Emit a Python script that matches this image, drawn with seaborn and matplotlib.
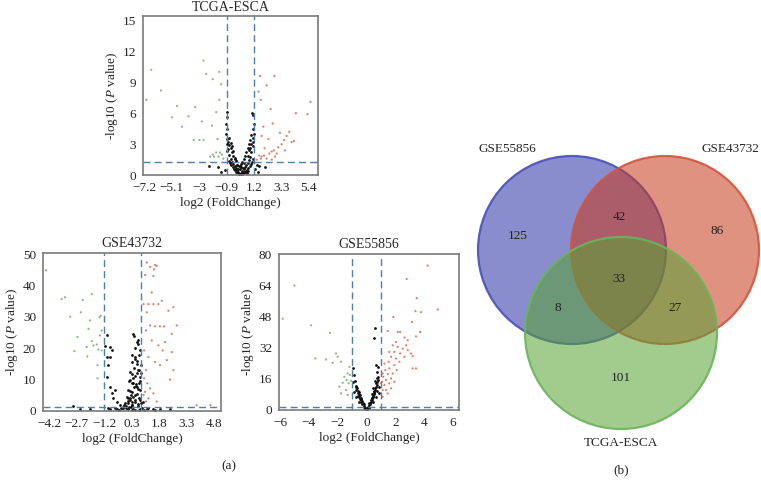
import matplotlib
matplotlib.use("Agg")
import matplotlib.pyplot as plt
import seaborn as sns
import pandas as pd
from matplotlib.patches import Circle

# ------------------------------
# Volcano points (x = log2 FC, y = -log10 P)
# ------------------------------
# TCGA-ESCA
tcga_ns_x = [0.1, 0.2, 0.0, 0.3, -0.1, 0.4, -0.2, 0.5, -0.3, 0.6, -0.4, 0.7, -0.5, 0.8, -0.6, 0.9,
             -0.7, 1.0, -0.8, 1.1, 0.15, 0.05, 0.25, 0.35, -0.05, 0.45, -0.15, 0.55, -0.25, 0.65,
             -0.35, 0.75, -0.45, 0.85, -0.55, 0.95, -0.65, 1.05, -0.75, 1.15, -0.9, -0.85, -0.95,
             -0.88, -0.92, -0.87, -0.9, -0.8, -0.7, -0.6, -0.85, -0.5, 1.1, 1.15, 1.2, 1.1, 1.18,
             1.12, 1.05, 1.0, 0.9, 0.8, 0.7, -1.0, -1.3, 1.3, 1.5, 1.6, 2.0, -1.6, 1.4, -2.29,
             0.12, 0.22, 0.02, 0.32, -0.08, 0.42, -0.18, 0.52, 0.62, -0.28, 0.72, -0.38,
             0.0, 0.1, 0.2, 0.3, -0.1, 0.4, -0.2, 0.5, -0.3, 0.6, 0.7, -0.4, 0.8, -0.5, 0.9,
             -0.6, 1.0, -0.7]
tcga_ns_y = [0.1, 0.2, 0.3, 0.4, 0.5, 0.6, 0.7, 0.8, 0.9, 1.0, 1.1, 1.2, 1.3, 1.5, 1.6, 1.8,
             2.0, 2.2, 2.5, 2.8, 0.05, 0.15, 0.1, 0.25, 0.2, 0.3, 0.35, 0.45, 0.5, 0.55,
             0.6, 0.7, 0.8, 0.9, 0.95, 1.1, 1.2, 1.3, 1.4, 1.6, 3.0, 3.5, 4.0,
             4.5, 5.0, 5.6, 6.1, 3.2, 2.9, 2.6, 2.3, 2.2, 3.2, 3.6, 4.0, 4.5, 5.0,
             5.8, 6.0, 3.0, 2.6, 2.4, 1.9, 0.5, 0.3, 0.6, 0.3, 0.9, 0.8, 0.8, 1.0, 0.9,
             0.6, 0.8, 0.9, 0.7, 1.0, 1.2, 1.4, 0.3, 0.2, 1.6, 0.4, 1.9,
             0.6, 0.9, 1.1, 1.3, 1.0, 1.6, 1.4, 1.9, 1.7, 2.2, 2.6, 2.3, 3.0, 2.8, 3.4,
             3.1, 3.9, 3.6]
tcga_dn_x = [-6.67, -7.05, -5.93, -4.7, -5.09, -3.82, -4.32, -3.31, -2.67, -2.47, -1.96, -1.47,
             -1.32, -1.47, -1.7, -2.03, -2.8, -2.98, -2.67, -3.43, -1.6, -2.16, -1.96, -1.7,
             -1.4, -1.86, -1.53, -1.27, -1.15]
tcga_dn_y = [10.2, 7.3, 8.2, 6.7, 5.6, 5.7, 4.7, 6.6, 11.1, 9.8, 9.3, 10.0,
             8.8, 7.3, 6.1, 4.8, 5.2, 3.4, 3.4, 3.4, 3.5, 1.8, 2.0, 2.2,
             2.2, 1.8, 1.8, 2.0, 1.6]
tcga_up_x = [1.58, 1.78, 1.96, 2.16, 2.37, 2.55, 2.72, 2.93, 3.05, 3.31, 3.49, 3.69, 3.89, 4.07,
             4.25, 4.4, 5.29, 5.52, 1.78, 1.91, 2.29, 2.47, 1.71, 2.16, 2.75, 1.66, 1.53, 2.62,
             3.18, 3.56, 1.71, 2.55, 1.4, 2.0, 2.8]
tcga_up_y = [1.9, 1.8, 1.9, 1.6, 2.1, 2.3, 2.4, 2.1, 2.7, 3.0, 3.4, 3.8, 4.2, 3.2,
             3.3, 6.0, 5.9, 7.1, 3.8, 4.7, 3.5, 6.4, 7.3, 8.7, 9.6, 9.6, 8.1, 5.0,
             4.1, 2.4, 1.6, 1.5, 1.5, 2.6, 1.8]

# GSE43732
g437_ns_x = [-1.05, -1.15, -0.87, -0.78, -1.05, -0.87, -0.96, -1.05, -0.87, -0.6, -0.78, -0.69,
             -0.51, -0.33, -0.15, 0.58, 0.49, 0.67, 0.76, 0.4, 0.49, 0.58, 0.67, 0.76, 0.31, 0.22,
             0.4, 0.58, 0.76, 0.13, 0.04, 0.22, 0.49, 0.76, -0.05, 0.31, 0.67, -0.15, 0.13, 0.4,
             0.76, 1.13, 1.49, 1.85, -0.51, -0.87, -1.96, -2.51, -2.87, 0.3, 0.5, 0.7, 0.2, 0.45,
             0.6, 0.35, 0.55, 0.1, 0.0, 0.25, 0.65, 0.8, 0.15, 0.5, 0.3, 0.7, -0.3, -0.6, 1.0, 2.4,
             0.0, 0.1, 0.2, 0.3, 0.4, 0.5, 0.6, 0.7, 0.8, 0.05, 0.15, 0.25, 0.35, 0.45, 0.55,
             0.65, 0.75, 0.85, 0.1, 0.3, 0.5, 0.7, 0.2, 0.4, 0.6, 0.8, 0.3, 0.5, 0.7, 0.45,
             0.65, -0.2, -0.1, 0.9, 1.2, 1.6, -1.0, -0.4]
g437_ns_y = [24.1, 20.6, 20.4, 19.3, 17.2, 17.2, 14.6, 10.9, 7.7, 6.7, 5.6, 4.0,
             3.0, 1.9, 1.4, 22.0, 20.2, 21.5, 19.3, 24.6, 17.2, 15.1, 13.0, 10.9, 11.9, 9.8,
             8.8, 7.7, 6.7, 6.7, 4.5, 4.0, 3.5, 3.5, 2.4, 1.9, 1.6, 0.8, 0.5, 0.5,
             0.5, 0.5, 0.5, 0.5, 0.5, 0.5, 0.5, 0.7, 1.6, 2.8, 5.0, 9.0, 12.5, 13.8,
             16.0, 18.0, 8.0, 3.2, 1.0, 1.2, 2.2, 12.0, 9.5, 0.3, 0.2, 0.3, 0.8, 1.0, 0.4, 0.6,
             1.5, 2.5, 3.5, 2.0, 4.5, 3.0, 5.5, 4.0, 2.5, 0.8, 1.2, 5.0, 6.0, 7.5, 8.5,
             7.0, 9.5, 1.0, 4.0, 9.0, 11.0, 13.0, 6.5, 10.5, 12.0, 14.5, 15.5, 16.5, 18.0, 24.0,
             22.5, 0.9, 2.0, 3.0, 1.0, 0.2, 1.0, 0.4]
g437_dn_x = [-4.36, -3.51, -3.33, -3.05, -2.36, -1.87, -2.47, -1.96, -2.05, -1.45, -1.38, -2.65,
             -2.82, -2.15, -1.87, -1.78, -1.6, -1.51, -1.42, -2.11, -1.56, -1.56, -1.33, -1.33]
g437_dn_y = [44.9, 35.7, 36.3, 30.1, 35.4, 37.3, 31.5, 28.9, 26.2, 29.9, 30.4, 23.6,
             19.1, 20.4, 22.3, 20.9, 21.2, 19.6, 24.1, 17.4, 14.6, 10.4, 19.3, 25.7]
g437_up_x = [1.13, 1.31, 1.58, 1.67, 1.53, 1.49, 1.04, 1.4, 0.95, 1.22, 1.49, 1.76, 1.95, 2.58,
             2.31, 2.76, 2.49, 1.13, 1.31, 1.58, 1.85, 2.07, 1.09, 1.4, 1.76, 2.0, 0.98, 1.22,
             1.58, 1.85, 2.22, 2.58, 2.4, 1.09, 0.98, 1.16, 1.31, 1.04, 1.49, 1.22, 1.67, 1.09,
             0.95, 2.13, 2.49, 3.85, 4.6]
g437_up_y = [47.4, 46.0, 46.6, 46.3, 45.2, 43.1, 43.4, 37.8, 34.1, 34.1, 34.1, 34.1, 35.2, 33.1,
             32.0, 27.3, 24.6, 31.5, 27.3, 27.0, 27.0, 27.0, 25.7, 22.5, 20.9, 19.3, 19.3, 17.2,
             15.6, 14.6, 16.2, 13.0, 10.0, 13.0, 10.4, 8.8, 7.2, 6.1, 5.6, 4.0, 3.0, 3.0,
             5.1, 22.0, 18.8, 1.8, 1.8]

# GSE55856
g558_ns_x = [-0.91, -0.84, -0.96, -0.73, -0.84, -0.61, -0.5, -0.38, -0.27, -0.15, -0.08, 0.01,
             0.1, 0.2, 0.31, 0.43, 0.5, 0.61, 0.66, 0.71, 0.75, 0.66, 0.77, 0.54, 0.59, -0.73,
             -0.5, 0.43, 0.66, 0.89, 0.89, -0.2, 0.25, -0.4, 0.35, 0.55, -0.6, 0.0, 0.05, -0.05,
             0.15, -0.1, 0.38, -0.3, 0.6, 0.8, -0.7, 0.7, 0.48, -0.45,
             -0.2, -0.3, -0.4, -0.5, -0.6, -0.7, -0.8, 0.2, 0.3, 0.4, 0.5, 0.6, 0.7, 0.8, -0.1,
             0.1, 0.0, -0.55, -0.65, 0.45, 0.55, 0.65, 0.75, -0.35, 0.35, -0.45, 0.25]
g558_ns_y = [21.4, 17.9, 14.5, 12.0, 9.4, 8.5, 6.8, 5.1, 3.4, 1.7, 0.3, 0.9,
             1.7, 3.4, 5.1, 6.8, 8.9, 11.1, 13.7, 16.2, 19.7, 23.1, 22.2, 37.3, 42.4, 6.8,
             4.3, 4.3, 6.8, 8.5, 12.0, 2.2, 2.8, 4.0, 6.0, 9.5, 7.2, 0.5, 0.2, 0.6,
             1.2, 1.0, 8.0, 2.8, 15.0, 17.0, 10.5, 9.8, 11.5, 5.5,
             2.8, 4.5, 6.0, 8.0, 10.0, 12.5, 15.0, 2.5, 4.0, 6.0, 8.0, 10.5, 13.0, 15.5, 1.0,
             1.0, 0.5, 9.0, 11.5, 7.0, 9.0, 12.0, 14.5, 5.5, 5.0, 7.5, 3.5]
g558_dn_x = [-5.82, -5.0, -3.85, -2.53, -3.55, -2.81, -2.12, -2.0, -2.35, -1.77, -1.19, -1.31,
             -1.54, -1.38, -1.65, -1.24, -1.88, -1.42, -1.15, -1.08, -1.77, -1.31]
g558_dn_y = [47.0, 64.1, 43.6, 39.7, 26.5, 26.0, 29.1, 27.4, 24.3, 24.8, 22.2, 18.8,
             17.1, 15.4, 14.0, 13.7, 12.0, 10.3, 18.0, 15.0, 8.5, 7.7]
g558_up_x = [1.12, 1.24, 1.08, 1.35, 1.58, 1.16, 1.47, 1.7, 1.31, 1.58, 1.82, 1.24, 1.54, 1.93,
             2.09, 1.7, 2.05, 2.28, 1.93, 2.33, 2.63, 1.58, 2.16, 2.51, 2.74, 2.86, 3.09, 1.82,
             2.05, 1.47, 2.16, 2.33, 2.63, 2.86, 3.2, 3.43, 1.12, 1.47, 1.7, 1.93, 1.35, 1.0,
             1.12, 4.24, 2.79, 3.48, 3.39, 3.78, 4.94, 3.16, 1.86, 3.73, 3.43, 3.2]
g558_up_y = [10.3, 12.8, 14.5, 15.4, 13.7, 17.1, 18.5, 16.2, 20.5, 21.4, 18.8, 23.9, 24.8, 23.1,
             20.5, 27.4, 26.5, 24.8, 29.9, 29.1, 27.4, 29.9, 32.5, 31.6, 33.3, 30.8, 29.1, 33.3,
             35.0, 40.7, 40.2, 40.2, 37.3, 35.9, 21.4, 21.4, 6.8, 8.5, 11.1, 14.5, 10.3, 13.7,
             18.8, 74.4, 67.5, 57.6, 50.9, 50.4, 51.8, 45.3, 47.9, 40.2, 37.9, 27.7]

# ------------------------------
# Venn counts
# ------------------------------
venn_sets = ["GSE55856", "GSE43732", "TCGA-ESCA"]
venn_counts = {"100": 125, "010": 86, "001": 101, "110": 42, "101": 8, "011": 27, "111": 33}

# ------------------------------
# Style
# ------------------------------
sns.set_style("white")
plt.rcParams["font.family"] = ["Liberation Serif", "DejaVu Serif"]
plt.rcParams["mathtext.fontset"] = "custom"
plt.rcParams["mathtext.rm"] = "Liberation Serif"
plt.rcParams["mathtext.it"] = "Liberation Serif:italic"

DASH = "#4f7fae"
FS = 9.5


def volcano(ax, title, ns_x, ns_y, dn_x, dn_y, up_x, up_y,
            xlim, ylim, xticks, xlabels, yticks, vlines):
    df = pd.DataFrame({
        "x": ns_x + dn_x + up_x,
        "y": ns_y + dn_y + up_y,
        "grp": ["ns"] * len(ns_x) + ["down"] * len(dn_x) + ["up"] * len(up_x),
    })
    sns.scatterplot(data=df[df.grp != "ns"], x="x", y="y", hue="grp",
                    palette={"down": "#79a86c", "up": "#d8684a"},
                    s=2.5, linewidth=0, alpha=0.85, legend=False, ax=ax)
    sns.scatterplot(data=df[df.grp == "ns"], x="x", y="y", color="#111111",
                    s=4, linewidth=0, legend=False, ax=ax)
    ax.axhline(1.3, ls=(0, (5, 3)), color=DASH, lw=1)
    for v in vlines:
        ax.axvline(v, ls=(0, (5, 3)), color=DASH, lw=1)
    ax.set_xlim(*xlim)
    ax.set_ylim(*ylim)
    ax.set_xticks(xticks)
    ax.set_xticklabels(xlabels)
    ax.set_yticks(yticks)
    ax.set_title(title, fontsize=FS + 0.5, pad=4)
    ax.set_xlabel("log2 (FoldChange)", fontsize=FS, labelpad=2)
    ax.set_ylabel("-log10 ($\\it{P}$ value)", fontsize=FS, labelpad=2)
    ax.tick_params(labelsize=FS, length=3, width=0.8, color="#666666", pad=2)
    for sp in ax.spines.values():
        sp.set_color("#7a7a7a")
        sp.set_linewidth(1.2)


fig = plt.figure(figsize=(7.61, 4.88), dpi=100)

ax1 = fig.add_axes([0.188, 0.641, 0.230, 0.326])
volcano(ax1, "TCGA-ESCA", tcga_ns_x, tcga_ns_y, tcga_dn_x, tcga_dn_y, tcga_up_x, tcga_up_y,
        (-7.3, 6.1), (0, 15.4),
        [-7.2, -5.1, -3, -0.9, 1.2, 3.3, 5.4],
        ["\u22127.2", "\u22125.1", "\u22123", "\u22120.9", "1.2", "3.3", "5.4"],
        [0, 3, 6, 9, 12, 15], [-0.9, 1.2])

ax2 = fig.add_axes([0.0565, 0.158, 0.234, 0.324])
volcano(ax2, "GSE43732", g437_ns_x, g437_ns_y, g437_dn_x, g437_dn_y, g437_up_x, g437_up_y,
        (-4.53, 5.18), (0, 50.5),
        [-4.2, -2.7, -1.2, 0.3, 1.8, 3.3, 4.8],
        ["\u22124.2", "\u22122.7", "\u22121.2", "0.3", "1.8", "3.3", "4.8"],
        [0, 10, 20, 30, 40, 50], [-1.2, 0.8])

ax3 = fig.add_axes([0.3666, 0.160, 0.2365, 0.320])
volcano(ax3, "GSE55856", g558_ns_x, g558_ns_y, g558_dn_x, g558_dn_y, g558_up_x, g558_up_y,
        (-6.07, 6.41), (0, 80.5),
        [-6, -4, -2, 0, 2, 4, 6],
        ["\u22126", "\u22124", "\u22122", "0", "2", "4", "6"],
        [0, 16, 32, 48, 64, 80], [-1.0, 1.0])

fig.text(229 / 761, 1 - 466 / 488, "(a)", ha="center", va="center", fontsize=FS)

# ------------------------------
# Venn diagram (pixel coordinates on an overlay axes)
# ------------------------------
axv = fig.add_axes([0, 0, 1, 1])
axv.set_xlim(0, 761)
axv.set_ylim(488, 0)
axv.axis("off")
axv.patch.set_alpha(0)

circles = [((572, 250), 94, "#2830a4", "#4a50b8"),
           ((665, 250), 94, "#c8391a", "#d2553c"),
           ((621, 333), 96, "#56a232", "#6cb45a")]
for (cx, cy), r, fc, ec in circles:
    axv.add_patch(Circle((cx, cy), r, facecolor=fc, alpha=0.55, lw=0))
    axv.add_patch(Circle((cx, cy), r, facecolor="none", edgecolor=ec, lw=1.6, alpha=0.9))

count_pos = {"100": (518, 236), "010": (717, 231), "001": (621, 378), "110": (619, 217),
             "101": (558, 308), "011": (675, 308), "111": (619, 279)}
for key, (px, py) in count_pos.items():
    axv.text(px, py, str(venn_counts[key]), ha="center", va="center", fontsize=FS, color="#222222")

axv.text(507, 149, venn_sets[0], ha="center", va="center", fontsize=FS)
axv.text(730, 149, venn_sets[1], ha="center", va="center", fontsize=FS)
axv.text(621, 443, venn_sets[2], ha="center", va="center", fontsize=FS)
axv.text(621, 470, "(b)", ha="center", va="center", fontsize=FS)

fig.savefig("out.png", dpi=100)
